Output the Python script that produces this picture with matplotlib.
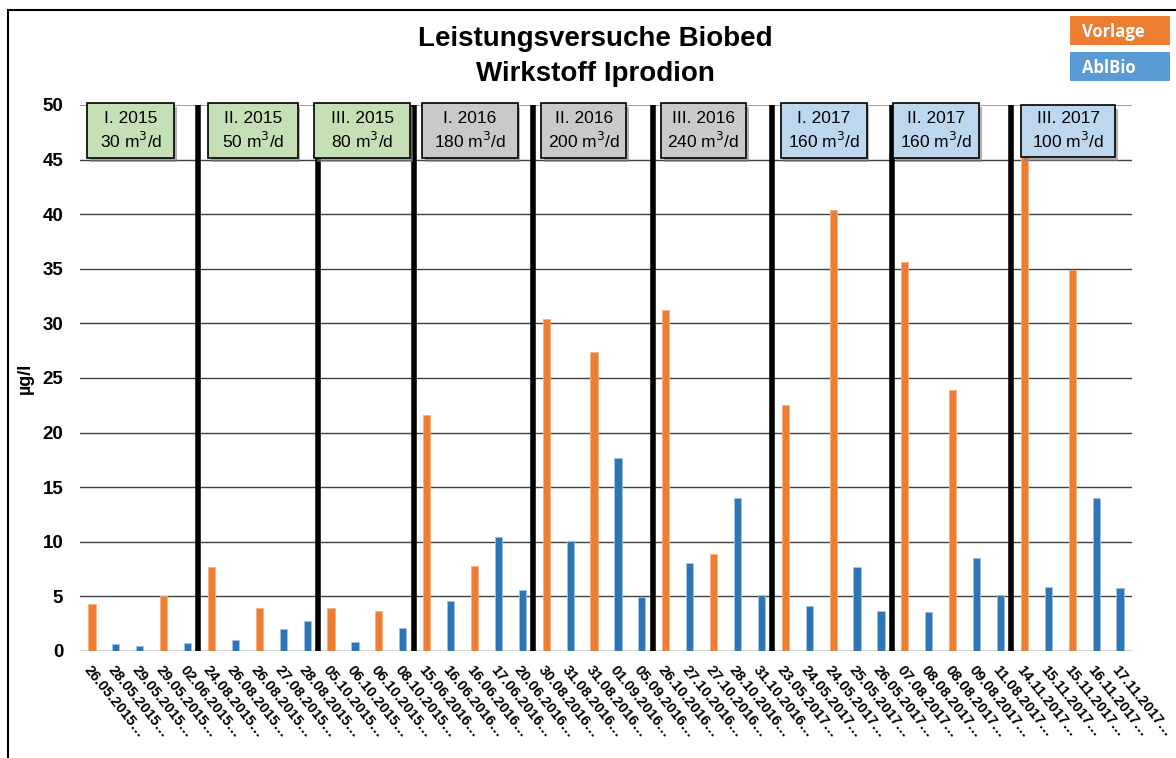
import matplotlib.pyplot as plt
from matplotlib.lines import Line2D
from matplotlib.patches import Rectangle

plt.rcParams['font.family'] = ['Liberation Sans', 'DejaVu Sans']

# Sampling dates (one sample per category, either Vorlage or AblBio)
dates = [
    "26.05.2015", "28.05.2015", "29.05.2015", "29.05.2015", "02.06.2015",
    "24.08.2015", "26.08.2015", "26.08.2015", "27.08.2015", "28.08.2015",
    "05.10.2015", "06.10.2015", "06.10.2015", "08.10.2015",
    "15.06.2016", "16.06.2016", "16.06.2016", "17.06.2016", "20.06.2016",
    "30.08.2016", "31.08.2016", "31.08.2016", "01.09.2016", "05.09.2016",
    "26.10.2016", "27.10.2016", "27.10.2016", "28.10.2016", "31.10.2016",
    "23.05.2017", "24.05.2017", "24.05.2017", "25.05.2017", "26.05.2017",
    "07.08.2017", "08.08.2017", "08.08.2017", "09.08.2017", "11.08.2017",
    "14.11.2017", "15.11.2017", "15.11.2017", "16.11.2017", "17.11.2017",
]

# Iprodion in µg/l, None where the series has no sample
vorlage = [
    4.3, None, None, 5.0, None,
    7.7, None, 3.9, None, None,
    3.9, None, 3.7, None,
    21.6, None, 7.8, None, None,
    30.4, None, 27.4, None, None,
    31.2, None, 8.9, None, None,
    22.5, None, 40.4, None, None,
    35.6, None, 23.9, None, None,
    45.2, None, 34.9, None, None,
]
ablbio = [
    None, 0.6, 0.5, None, 0.7,
    None, 1.0, None, 2.0, 2.7,
    None, 0.8, None, 2.1,
    None, 4.6, None, 10.4, 5.6,
    None, 10.1, None, 17.7, 4.9,
    None, 8.1, None, 14.0, 5.1,
    None, 4.1, None, 7.7, 3.7,
    None, 3.6, None, 8.5, 5.1,
    None, 5.9, None, 14.0, 5.8,
]

# Test phases: label, throughput, number of samples
phases = ["I. 2015", "II. 2015", "III. 2015", "I. 2016", "II. 2016",
          "III. 2016", "I. 2017", "II. 2017", "III. 2017"]
flows = ["30", "50", "80", "180", "200", "240", "160", "160", "100"]
phase_sizes = [5, 5, 4, 5, 5, 5, 5, 5, 5]

# box placement (left, right, bottom, top) in axis units
box_pos = [
    (-0.2, 3.45, 45.1, 50.2), (4.85, 8.6, 45.1, 50.2), (9.3, 13.3, 45.1, 50.2),
    (13.8, 17.8, 45.1, 50.2), (18.8, 22.35, 45.1, 50.2), (23.8, 27.35, 45.1, 50.2),
    (28.8, 32.4, 45.1, 50.2), (33.5, 37.1, 45.1, 50.2), (38.85, 42.8, 45.2, 50.0),
]
box_colors = ["#C5E0B4"] * 3 + ["#C9C9C9"] * 3 + ["#BDD7EE"] * 3

ORANGE = "#ED7D31"
BLUE = "#2E75B6"

fig = plt.figure(figsize=(11.76, 7.58), dpi=100)
ax = fig.add_axes([0.068, 0.1412, 0.8946, 0.7203])

n = len(dates)
xs = list(range(n))
w = 0.3
for i in xs:
    if vorlage[i] is not None:
        ax.bar(i, vorlage[i], width=w, color=ORANGE, edgecolor="#F4B183",
               linewidth=0.6, zorder=3)
    if ablbio[i] is not None:
        ax.bar(i, ablbio[i], width=w, color=BLUE, edgecolor="#9DC3E6",
               linewidth=0.6, zorder=3)

ax.set_xlim(-0.5, n - 0.5)
ax.set_ylim(0, 50)
ax.set_yticks(range(0, 51, 5))
ax.set_yticklabels([str(v) for v in range(0, 51, 5)],
                   fontsize=13.5, fontweight="bold")
ax.set_xticks(xs)
ax.set_xticklabels([d + "…" for d in dates], rotation=-51, ha="left",
                   va="top", rotation_mode="anchor", fontsize=10.5,
                   fontweight="bold")
ax.tick_params(axis="both", length=0)
ax.tick_params(axis="x", pad=9)
ax.tick_params(axis="y", pad=12)

for s in ax.spines.values():
    s.set_visible(False)

for v in range(5, 50, 5):
    ax.axhline(v, color="#404040", linewidth=1.0, zorder=1)
ax.axhline(50, color="#8C8C8C", linewidth=1.2, zorder=1)
ax.axhline(0, color="#D9D9D9", linewidth=1.5, zorder=2)

ax.set_ylabel("µg/l", fontsize=13, fontweight="bold", labelpad=6)

# vertical separators between phases
edge = 0
for size in phase_sizes[:-1]:
    edge += size
    ax.plot([edge - 0.55, edge - 0.55], [0, 50], color="black",
            linewidth=4, zorder=4, solid_capstyle="butt")

# phase boxes with drop shadow
for (x0, x1, y0, y1), lab, q, c in zip(box_pos, phases, flows, box_colors):
    ax.add_patch(Rectangle((x0 + 0.12, y0 - 0.35), x1 - x0, y1 - y0,
                           facecolor="#7F7F7F", edgecolor="none", alpha=0.6,
                           zorder=5, clip_on=False))
    ax.add_patch(Rectangle((x0, y0), x1 - x0, y1 - y0, facecolor=c,
                           edgecolor="black", linewidth=1.2, zorder=6,
                           clip_on=False))
    ax.text((x0 + x1) / 2, y0 + (y1 - y0) * 0.5,
            lab + "\n" + q + r" m$^3$/d", ha="center", va="center",
            fontsize=12.5, linespacing=1.3, zorder=7)

fig.text(0.506, 0.948, "Leistungsversuche Biobed", ha="center", va="center",
         fontsize=20, fontweight="bold")
fig.text(0.506, 0.903, "Wirkstoff Iprodion", ha="center", va="center",
         fontsize=20, fontweight="bold")

# legend boxes in the upper right
fig.patches.append(Rectangle((1070 / 1176, 1 - 45 / 758), 100 / 1176, 29 / 758,
                             transform=fig.transFigure, facecolor=ORANGE,
                             edgecolor="none"))
fig.patches.append(Rectangle((1070 / 1176, 1 - 81 / 758), 100 / 1176, 29 / 758,
                             transform=fig.transFigure, facecolor="#5B9BD5",
                             edgecolor="none"))
fig.text(1082 / 1176, 1 - 32 / 758, "Vorlage", color="white", ha="left",
         va="center", fontsize=12, fontweight="bold", family="Open Sans")
fig.text(1082 / 1176, 1 - 68 / 758, "AblBio", color="white", ha="left",
         va="center", fontsize=12, fontweight="bold", family="Open Sans")

# chart frame (top and left edge)
fig.add_artist(Line2D([8 / 1176, 1], [1 - 10 / 758, 1 - 10 / 758],
                      transform=fig.transFigure, color="black", linewidth=1.5))
fig.add_artist(Line2D([8 / 1176, 8 / 1176], [0, 1 - 10 / 758],
                      transform=fig.transFigure, color="black", linewidth=1.5))

fig.savefig("out.png", dpi=100)
